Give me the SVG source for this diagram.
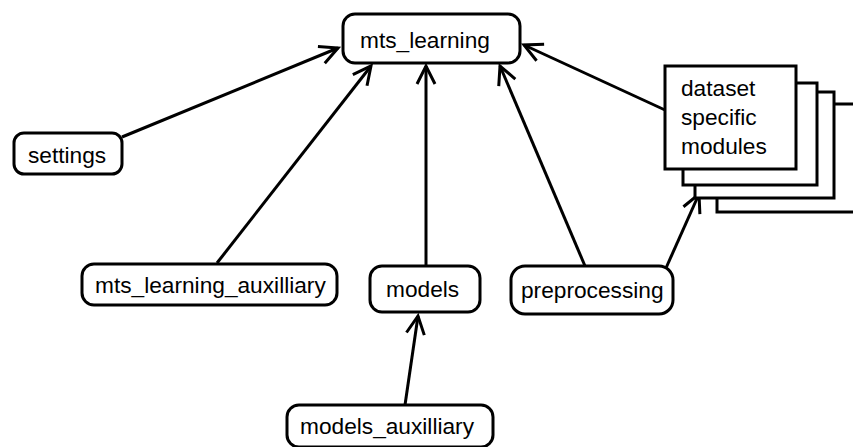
<svg xmlns="http://www.w3.org/2000/svg" width="853" height="447" viewBox="0 0 853 447">
<defs>
<style>
.box{fill:#fff;stroke:#000;stroke-width:3}
.lbl{font-family:"Liberation Sans",Arial,sans-serif;font-size:22.7px;fill:#000}
.edge{stroke:#000;stroke-width:3;fill:none}
</style>
<marker id="arr" markerWidth="24" markerHeight="24" refX="20" refY="12" orient="auto" markerUnits="userSpaceOnUse">
<path d="M2,3 L20,12 L2,21" fill="none" stroke="#000" stroke-width="3"/>
</marker>
</defs>
<rect width="853" height="447" fill="#fff"/>
<g id="connectors">
<line class="edge" x1="122" y1="137" x2="338" y2="48" marker-end="url(#arr)"/>
<line class="edge" x1="217" y1="263" x2="371" y2="66" marker-end="url(#arr)"/>
<line class="edge" x1="426" y1="266" x2="426" y2="66" marker-end="url(#arr)"/>
<line class="edge" x1="585" y1="266" x2="500" y2="66" marker-end="url(#arr)"/>
<line class="edge" x1="665" y1="110" x2="524" y2="45" marker-end="url(#arr)"/>
<line class="edge" x1="666" y1="268" x2="699" y2="194" marker-end="url(#arr)"/>
<line class="edge" x1="405" y1="405" x2="418" y2="316" marker-end="url(#arr)"/>
</g>
<g id="dataset_specific_modules">
<rect class="box" x="717" y="104" width="150" height="108"/>
<rect class="box" x="695" y="92" width="139" height="106"/>
<rect class="box" x="683" y="83" width="134" height="102"/>
<rect class="box" x="665" y="66" width="131" height="103"/>
<text class="lbl" x="681" y="96">dataset</text>
<text class="lbl" x="681" y="125">specific</text>
<text class="lbl" x="681" y="154">modules</text>
</g>
<g id="mts_learning">
<rect class="box" x="343" y="14" width="177" height="49" rx="12"/>
<text class="lbl" x="360" y="48">mts_learning</text>
</g>
<g id="settings">
<rect class="box" x="14" y="133" width="108" height="41" rx="10"/>
<text class="lbl" x="28" y="163">settings</text>
</g>
<g id="mts_learning_auxilliary">
<rect class="box" x="82" y="264" width="255" height="41" rx="12"/>
<text class="lbl" x="95" y="293">mts_learning_auxilliary</text>
</g>
<g id="models">
<rect class="box" x="370" y="266" width="110" height="46" rx="12"/>
<text class="lbl" x="386" y="297">models</text>
</g>
<g id="preprocessing">
<rect class="box" x="511" y="266" width="162" height="48" rx="14"/>
<text class="lbl" x="521" y="298">preprocessing</text>
</g>
<g id="models_auxilliary">
<rect class="box" x="287" y="405" width="206" height="42" rx="12"/>
<text class="lbl" x="300" y="434">models_auxilliary</text>
</g>
</svg>
